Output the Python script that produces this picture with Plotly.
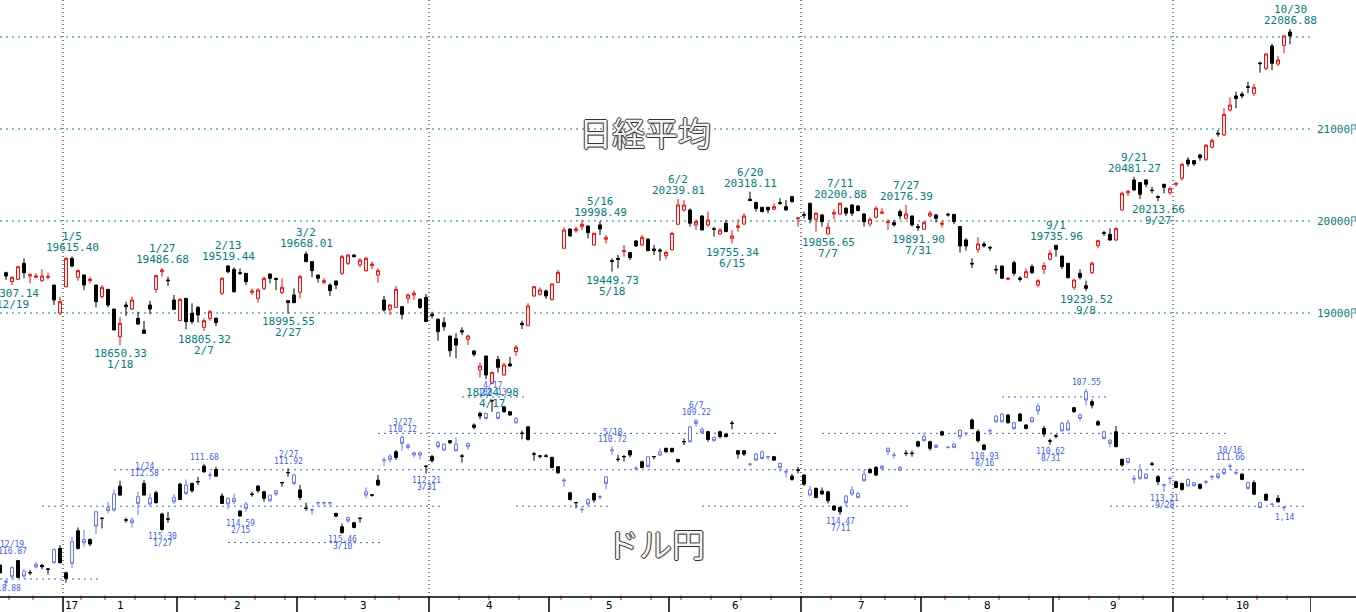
import pandas as pd
import plotly.graph_objects as go

# ── trading calendar (Tokyo) ────────────────────────────────────────────
HOLIDAYS = ["2016-12-23", "2017-01-02", "2017-01-03", "2017-01-09", "2017-03-20",
            "2017-05-03", "2017-05-04", "2017-05-05", "2017-07-17", "2017-08-11",
            "2017-09-18", "2017-10-09"]
DATES = [d for d in pd.bdate_range("2016-12-15", "2017-10-30")
         if d.strftime("%Y-%m-%d") not in HOLIDAYS]

NK_FIRST = "2016-12-16"
USD_FIRST = "2016-12-15"

# ── Nikkei 225 daily OHLC ───────────────────────────────────────────────
NK_OPEN = [
    19438, 19340, 19366, 19540, 19402, 19388, 19351, 19388, 19304, 19000,
    19286, 19594, 19388, 19413, 19351, 19304, 19177, 19257, 19043, 18743,
    19087, 19043, 18942, 18815, 19087, 19257, 19449, 19359, 19141, 18917,
    19159, 18996, 19061, 18844, 18942, 18942, 19214, 19511, 19474, 19438,
    19431, 19225, 19159, 19268, 19424, 19377, 19221, 19134, 19196, 19225,
    19641, 19558, 19413, 19333, 19304, 19348, 19431, 19540, 19630, 19522,
    19460, 19514, 19413, 19141, 19040, 19061, 19069, 19159, 19196, 19148,
    19170, 18985, 18931, 18895, 18750, 18721, 18808, 18714, 18587, 18380,
    18533, 18235, 18496, 18326, 18446, 18580, 18888, 18862, 19185, 19203,
    19239, 19148, 19333, 19703, 19913, 19895, 19938, 19946, 19739, 19957,
    19801, 19571, 19594, 19667, 19656, 19782, 19739, 19804, 19696, 19685,
    19623, 19685, 19964, 20119, 20119, 19957, 20054, 19957, 19917, 19859,
    19975, 19811, 19931, 19967, 20236, 20200, 20149, 20149, 20127, 20200,
    20156, 20265, 20025, 20073, 20192, 20018, 20066, 19859, 20076, 20076,
    20138, 20174, 20163, 20076, 19968, 20040, 20084, 19982, 19982, 20102,
    20029, 20055, 19939, 19910, 20055, 20066, 19964, 20073, 20073, 19939,
    19794, 19540, 19692, 19750, 19714, 19475, 19511, 19366, 19547, 19380,
    19388, 19503, 19304, 19475, 19583, 19735, 19619, 19540, 19279, 19431,
    19297, 19438, 19732, 19873, 19855, 19793, 20120, 20308, 20446, 20417,
    20446, 20337, 20265, 20399, 20308, 20399, 20464, 20663, 20656, 20717,
    20670, 20801, 20953, 20935, 21206, 21359, 21380, 21460, 21388, 21717,
    21659, 21902, 21706, 21909, 22054,
]
NK_HIGH = [
    19449, 19395, 19511, 19594, 19427, 19431, 19474, 19438, 19304, 19177,
    19605, 19615, 19474, 19413, 19395, 19304, 19304, 19257, 19043, 18953,
    19123, 19177, 19014, 18913, 19134, 19413, 19487, 19395, 19196, 19159,
    19159, 19105, 19076, 18942, 19032, 18953, 19388, 19519, 19496, 19485,
    19431, 19268, 19268, 19395, 19424, 19377, 19377, 19141, 19268, 19413,
    19668, 19558, 19413, 19377, 19322, 19351, 19630, 19641, 19637, 19594,
    19612, 19558, 19485, 19185, 19098, 19293, 19076, 19214, 19243, 19159,
    19206, 19014, 18942, 18953, 18750, 18779, 18844, 18761, 18598, 18460,
    18533, 18362, 18533, 18460, 18525, 18652, 18917, 19105, 19293, 19279,
    19257, 19322, 19467, 19931, 19920, 19938, 20011, 19946, 19873, 19998,
    19848, 19594, 19630, 19739, 19663, 19793, 19848, 19811, 19739, 19703,
    19677, 19884, 20240, 20228, 20137, 20018, 20065, 20101, 19938, 19920,
    20011, 19902, 20018, 20083, 20318, 20210, 20149, 20149, 20192, 20247,
    20228, 20272, 20040, 20102, 20200, 20091, 20076, 19982, 20127, 20201,
    20149, 20185, 20170, 20084, 20040, 20163, 20138, 20018, 20011, 20127,
    20176, 20055, 19968, 19993, 20113, 20076, 20004, 20091, 20073, 19939,
    19812, 19595, 19823, 19776, 19729, 19522, 19511, 19388, 19569, 19400,
    19485, 19529, 19366, 19551, 19685, 19736, 19619, 19540, 19366, 19475,
    19351, 19558, 19793, 19895, 19920, 19931, 20319, 20337, 20481, 20417,
    20453, 20373, 20279, 20399, 20373, 20428, 20627, 20692, 20663, 20728,
    20837, 20895, 20989, 21225, 21344, 21406, 21406, 21514, 21489, 21732,
    21822, 21924, 21793, 22022, 22087,
]
NK_LOW = [
    19359, 19304, 19359, 19377, 19322, 19377, 19340, 19366, 19087, 18978,
    19279, 19496, 19351, 19250, 19322, 19061, 19159, 19061, 18815, 18650,
    18967, 19032, 18869, 18772, 18985, 19221, 19395, 19293, 19032, 18917,
    18822, 18880, 18895, 18805, 18917, 18859, 19196, 19431, 19221, 19413,
    19304, 19196, 19112, 19250, 19322, 19250, 19206, 18996, 19112, 19159,
    19558, 19388, 19330, 19315, 19185, 19257, 19413, 19522, 19605, 19496,
    19449, 19478, 19330, 19014, 18978, 19061, 18931, 19105, 19141, 19043,
    18906, 18942, 18699, 18808, 18525, 18507, 18761, 18652, 18525, 18297,
    18279, 18225, 18351, 18319, 18417, 18533, 18826, 18862, 19177, 19188,
    19152, 19134, 19333, 19703, 19830, 19873, 19902, 19811, 19732, 19848,
    19757, 19450, 19485, 19612, 19576, 19721, 19728, 19677, 19630, 19569,
    19583, 19685, 19964, 20101, 19938, 19902, 19902, 19938, 19830, 19848,
    19884, 19755, 19884, 19957, 20221, 20101, 20095, 20084, 20120, 20174,
    20113, 20200, 19939, 20029, 19975, 19884, 19939, 19857, 20018, 20066,
    20055, 20055, 20105, 19939, 19939, 20029, 20076, 19903, 19939, 20018,
    20018, 19939, 19892, 19903, 20040, 19982, 19928, 20048, 19964, 19656,
    19678, 19486, 19656, 19714, 19674, 19424, 19370, 19359, 19406, 19340,
    19377, 19424, 19279, 19424, 19576, 19612, 19475, 19377, 19250, 19366,
    19240, 19424, 19703, 19837, 19786, 19786, 20112, 20272, 20330, 20239,
    20366, 20301, 20214, 20301, 20283, 20373, 20438, 20591, 20598, 20656,
    20652, 20790, 20917, 20924, 21188, 21225, 21333, 21388, 21359, 21612,
    21641, 21641, 21685, 21822, 21920,
]
NK_CLOSE = [
    19402, 19388, 19503, 19438, 19420, 19402, 19402, 19395, 19141, 19123,
    19594, 19511, 19460, 19304, 19366, 19123, 19279, 19087, 18815, 18888,
    19069, 19141, 18880, 18779, 19043, 19406, 19467, 19351, 19040, 19148,
    18906, 18906, 18978, 18917, 19014, 18895, 19377, 19449, 19232, 19431,
    19340, 19239, 19250, 19377, 19377, 19366, 19279, 19112, 19112, 19395,
    19558, 19460, 19377, 19351, 19243, 19304, 19612, 19630, 19612, 19576,
    19594, 19532, 19460, 19032, 19087, 19257, 18985, 19196, 19214, 19061,
    18906, 18971, 18797, 18851, 18590, 18652, 18793, 18750, 18551, 18424,
    18326, 18355, 18409, 18435, 18424, 18627, 18873, 19076, 19286, 19250,
    19185, 19315, 19442, 19902, 19837, 19913, 19964, 19873, 19866, 19913,
    19819, 19560, 19583, 19677, 19601, 19728, 19822, 19677, 19677, 19674,
    19659, 19866, 20174, 20174, 19975, 19993, 19902, 20011, 19909, 19902,
    19884, 19837, 19946, 20054, 20221, 20137, 20102, 20120, 20156, 20192,
    20120, 20210, 20033, 20062, 20018, 20084, 19993, 19931, 20091, 20192,
    20084, 20084, 20113, 19993, 20018, 20138, 20095, 19993, 19957, 20055,
    20076, 19957, 19928, 19986, 20084, 20029, 19975, 20066, 19993, 19729,
    19729, 19533, 19750, 19729, 19707, 19468, 19377, 19377, 19431, 19366,
    19449, 19438, 19351, 19514, 19648, 19692, 19504, 19384, 19359, 19388,
    19268, 19540, 19786, 19866, 19793, 19917, 20301, 20319, 20337, 20290,
    20399, 20330, 20257, 20366, 20351, 20406, 20616, 20620, 20620, 20688,
    20823, 20873, 20946, 21159, 21261, 21330, 21359, 21453, 21453, 21710,
    21815, 21714, 21750, 22011, 22011,
]

# ── USD/JPY daily OHLC ──────────────────────────────────────────────────
USD_OPEN = [
    117.66, 118.13, 117.38, 117.91, 117.57, 117.67, 117.20, 117.33, 117.47, 116.38,
    117.11, 117.97, 115.95, 116.32, 115.83, 116.08, 114.31, 114.68, 114.07, 113.33,
    113.39, 114.77, 114.76, 113.48, 113.39, 113.57, 113.81, 115.28, 114.72, 113.52,
    113.63, 112.84, 113.15, 112.67, 112.11, 112.28, 112.35, 113.85, 113.57, 113.57,
    114.54, 113.88, 113.36, 113.15, 113.57, 113.39, 113.15, 112.72, 112.17, 112.29,
    113.52, 114.13, 114.20, 113.80, 113.80, 113.80, 114.54, 115.46, 114.62, 115.17,
    114.68, 113.21, 113.40, 112.84, 111.46, 111.25, 111.32, 110.22, 110.64, 111.06,
    111.06, 111.81, 111.50, 110.51, 110.59, 110.51, 110.59, 111.26, 110.55, 109.67,
    109.05, 108.90, 108.22, 108.85, 108.81, 108.99, 109.18, 110.01, 110.33, 111.15,
    111.26, 111.26, 111.87, 112.16, 112.56, 113.63, 113.82, 114.17, 113.63, 113.66,
    113.47, 112.38, 110.90, 111.44, 111.29, 111.19, 111.91, 111.87, 111.28, 111.29,
    111.01, 111.01, 111.01, 111.56, 110.47, 109.64, 109.31, 109.78, 110.33, 110.22,
    110.18, 110.18, 109.46, 111.14, 111.14, 111.68, 111.14, 111.01, 111.27, 111.47,
    111.65, 112.10, 112.53, 112.03, 112.79, 113.11, 113.52, 113.33, 113.70, 114.21,
    114.31, 113.44, 113.11, 113.30, 112.24, 112.16, 112.29, 111.80, 110.82, 111.18,
    111.87, 111.11, 111.11, 110.70, 110.18, 110.82, 110.64, 110.09, 110.76, 110.59,
    109.82, 109.99, 109.73, 110.40, 110.88, 109.84, 109.05, 108.94, 109.42, 109.42,
    109.31, 109.73, 109.14, 108.50, 110.04, 110.43, 110.16, 109.45, 109.42, 108.81,
    108.99, 107.71, 108.45, 109.54, 109.91, 110.37, 110.73, 111.74, 111.38, 112.47,
    112.02, 112.24, 111.70, 112.66, 112.83, 112.46, 112.97, 113.08, 112.53, 112.71,
    113.02, 112.65, 112.37, 112.24, 111.98, 111.79, 112.15, 112.53, 112.71, 113.34,
    113.81, 113.67, 113.88, 113.76, 114.06,
]
USD_HIGH = [
    117.70, 118.43, 118.02, 117.96, 117.97, 117.79, 117.42, 117.47, 117.75, 117.14,
    117.14, 118.21, 117.42, 116.38, 116.23, 116.19, 115.53, 115.22, 114.40, 114.31,
    113.44, 114.91, 115.17, 114.49, 113.42, 113.99, 113.85, 115.35, 114.91, 113.88,
    113.67, 113.39, 113.26, 112.84, 112.16, 112.53, 112.38, 113.88, 114.18, 113.88,
    114.59, 114.31, 113.48, 113.26, 113.76, 113.76, 113.44, 112.93, 112.38, 112.84,
    113.67, 114.25, 114.49, 114.03, 113.99, 113.99, 114.62, 115.50, 114.91, 115.22,
    114.91, 113.57, 113.48, 112.89, 111.80, 111.61, 111.47, 110.95, 110.88, 111.32,
    111.43, 112.21, 111.61, 110.82, 110.95, 110.59, 111.01, 111.61, 110.92, 109.78,
    109.23, 109.23, 108.81, 109.23, 108.87, 109.05, 109.45, 110.33, 110.40, 111.50,
    111.38, 111.32, 111.92, 112.24, 112.93, 113.70, 114.12, 114.37, 113.99, 113.81,
    113.63, 113.08, 111.19, 111.56, 111.56, 111.32, 112.05, 111.92, 111.87, 111.43,
    111.25, 111.06, 111.04, 111.60, 110.64, 110.51, 109.64, 110.04, 110.46, 110.46,
    110.28, 110.22, 109.78, 111.38, 111.25, 111.80, 111.50, 111.43, 111.47, 111.50,
    112.11, 112.42, 112.60, 112.20, 112.89, 113.44, 113.57, 113.39, 113.85, 114.25,
    114.47, 113.99, 113.44, 113.57, 112.66, 112.20, 112.35, 112.05, 111.19, 111.38,
    112.05, 111.25, 111.28, 110.77, 110.46, 110.95, 110.82, 110.15, 110.82, 110.82,
    110.33, 110.15, 109.78, 110.51, 110.93, 110.09, 109.42, 109.42, 109.45, 109.82,
    109.36, 109.78, 109.42, 108.99, 110.19, 110.62, 110.28, 109.91, 109.86, 108.87,
    109.31, 108.45, 108.63, 109.60, 110.33, 110.77, 110.77, 111.83, 111.65, 112.75,
    112.57, 112.53, 111.80, 112.84, 113.21, 112.79, 113.02, 113.15, 112.93, 112.93,
    113.08, 112.79, 112.57, 112.53, 112.29, 112.02, 112.29, 112.57, 113.11, 113.39,
    114.12, 113.70, 113.94, 113.81, 114.25,
]
USD_LOW = [
    117.20, 118.02, 117.29, 116.99, 117.47, 117.51, 117.05, 117.20, 117.42, 116.32,
    116.14, 117.60, 115.68, 115.17, 115.31, 115.77, 114.25, 114.64, 113.76, 113.08,
    112.60, 114.62, 114.62, 113.21, 112.57, 113.30, 113.15, 114.36, 114.31, 113.33,
    112.71, 112.53, 112.71, 112.38, 111.68, 112.11, 111.83, 113.30, 113.52, 113.30,
    114.21, 113.76, 113.21, 112.84, 113.15, 113.38, 113.12, 112.66, 111.92, 112.20,
    112.84, 113.81, 114.12, 113.76, 113.76, 113.76, 114.36, 114.95, 114.58, 114.86,
    114.62, 112.97, 113.35, 112.29, 111.32, 111.14, 110.92, 110.12, 110.55, 111.01,
    111.01, 111.79, 111.19, 110.40, 110.55, 110.37, 110.22, 111.14, 110.51, 109.45,
    108.81, 108.87, 108.13, 108.81, 108.50, 108.77, 109.12, 109.85, 109.63, 111.01,
    111.19, 111.14, 111.28, 111.80, 112.47, 113.21, 113.76, 114.03, 113.57, 113.26,
    113.39, 112.35, 110.72, 111.19, 111.19, 110.92, 111.80, 111.50, 111.25, 111.25,
    110.82, 110.79, 110.80, 111.40, 110.28, 109.60, 109.22, 109.64, 109.85, 110.18,
    109.85, 110.00, 109.31, 110.92, 110.92, 111.61, 111.06, 110.95, 111.25, 111.25,
    111.61, 112.02, 112.24, 111.83, 112.24, 112.89, 112.97, 112.97, 113.15, 113.98,
    114.03, 113.39, 112.89, 113.21, 112.02, 111.92, 111.80, 111.74, 110.77, 111.01,
    111.80, 110.92, 110.95, 110.40, 109.96, 110.40, 110.59, 109.85, 110.70, 110.55,
    109.78, 109.96, 109.18, 109.78, 110.59, 109.73, 108.99, 108.90, 108.94, 109.36,
    108.87, 109.49, 109.09, 108.35, 109.60, 110.28, 110.04, 109.36, 109.27, 108.54,
    108.90, 107.55, 108.13, 109.27, 109.86, 110.33, 109.60, 111.38, 111.37, 112.29,
    111.69, 112.20, 111.56, 112.29, 112.75, 112.38, 112.60, 112.71, 112.47, 112.66,
    112.75, 112.57, 112.29, 112.20, 111.87, 111.66, 112.02, 112.20, 112.66, 112.57,
    113.76, 113.30, 113.85, 113.39, 113.99,
]
USD_CLOSE = [
    117.24, 118.17, 117.88, 116.99, 117.84, 117.65, 117.33, 117.24, 117.45, 117.11,
    116.32, 117.66, 117.14, 115.35, 116.01, 115.83, 115.09, 114.66, 114.25, 114.21,
    112.90, 114.75, 114.91, 113.85, 112.75, 113.88, 113.26, 114.43, 114.70, 113.76,
    112.79, 113.30, 112.75, 112.65, 111.80, 112.30, 111.98, 113.44, 113.88, 113.76,
    114.27, 114.12, 113.34, 112.90, 113.21, 113.70, 113.33, 112.70, 112.15, 112.75,
    113.11, 114.11, 114.22, 113.82, 113.82, 113.82, 114.40, 115.13, 114.80, 114.91,
    114.66, 113.39, 113.38, 112.57, 111.48, 111.43, 111.01, 110.55, 110.77, 111.19,
    111.19, 111.80, 111.28, 110.73, 110.92, 110.40, 110.95, 111.24, 110.73, 109.54,
    108.90, 109.18, 108.20, 109.18, 108.54, 108.81, 109.42, 109.99, 109.64, 111.13,
    111.24, 111.24, 111.32, 111.83, 112.60, 113.26, 113.80, 114.19, 113.88, 113.30,
    113.49, 112.75, 110.95, 111.42, 111.27, 110.95, 111.93, 111.56, 111.83, 111.27,
    111.19, 110.82, 110.82, 111.43, 110.45, 110.46, 109.45, 109.96, 109.91, 110.40,
    109.91, 110.04, 109.44, 110.95, 110.95, 111.70, 111.47, 111.38, 111.29, 111.28,
    111.87, 112.12, 112.35, 112.01, 112.29, 113.39, 113.02, 113.17, 113.21, 113.99,
    114.07, 113.81, 113.33, 113.52, 112.60, 111.98, 111.87, 111.92, 111.01, 111.20,
    112.02, 111.09, 111.09, 110.46, 110.40, 110.46, 110.77, 109.91, 110.78, 110.77,
    110.18, 110.01, 109.27, 109.91, 110.64, 109.86, 109.36, 109.36, 108.99, 109.73,
    108.94, 109.54, 109.36, 108.76, 109.73, 110.41, 110.14, 109.86, 109.82, 108.59,
    109.18, 108.17, 108.26, 109.36, 110.28, 110.55, 109.91, 111.43, 111.61, 112.51,
    112.47, 112.47, 111.68, 112.38, 112.85, 112.48, 112.66, 112.75, 112.88, 112.88,
    112.81, 112.67, 112.39, 112.42, 112.20, 111.81, 112.17, 112.24, 113.02, 112.71,
    114.07, 113.35, 113.90, 113.57, 114.08,
]

# ── labels: (date, value text, placement) ───────────────────────────────
NK_LABELS = [
    ("12/19", "19307.14", "below"), ("1/5", "19615.40", "above"),
    ("1/18", "18650.33", "below"), ("1/27", "19486.68", "above"),
    ("2/7", "18805.32", "below"), ("2/13", "19519.44", "above"),
    ("2/27", "18995.55", "below"), ("3/2", "19668.01", "above"),
    ("4/17", "18224.98", "below"), ("5/16", "19998.49", "above"),
    ("5/18", "19449.73", "below"), ("6/2", "20239.81", "above"),
    ("6/15", "19755.34", "below"), ("6/20", "20318.11", "above"),
    ("7/7", "19856.65", "below"), ("7/11", "20200.88", "above"),
    ("7/27", "20176.39", "above"), ("7/31", "19891.90", "below"),
    ("9/1", "19735.96", "above"), ("9/8", "19239.52", "below"),
    ("9/21", "20481.27", "above"), ("9/27", "20213.66", "below"),
    ("10/30", "22086.88", "above"),
]
# (date, shown date, value text, level, placement)
USD_LABELS = [
    ("12/19", "12/19", "116.87", 116.87, "above"),
    ("12/16", "", "118.88", 118.88, "above"),
    ("1/24", "1/24", "112.58", 112.58, "above"),
    ("1/27", "1/27", "115.30", 115.30, "below"),
    ("2/7", "", "111.68", 111.68, "above"),
    ("2/15", "2/15", "114.59", 114.59, "below"),
    ("2/27", "2/27", "111.92", 111.92, "above"),
    ("3/10", "3/10", "115.46", 115.46, "below"),
    ("3/27", "3/27", "110.12", 110.12, "above"),
    ("3/31", "3/31", "112.21", 112.21, "below"),
    ("4/17", "4/17", "108.13", 108.13, "above"),
    ("5/18", "5/18", "110.72", 110.72, "above"),
    ("6/7", "6/7", "109.22", 109.22, "above"),
    ("7/11", "7/11", "114.47", 114.47, "below"),
    ("8/16", "8/16", "110.93", 110.93, "below"),
    ("8/31", "8/31", "110.62", 110.62, "below"),
    ("9/8", "", "107.55", 107.55, "above"),
    ("9/28", "9/28", "113.21", 113.21, "below"),
    ("10/16", "10/16", "111.66", 111.66, "above"),
    ("10/27", "", "1,14", 114.25, "below"),
]

NK_GRID = [19000, 20000, 21000, 22000]
NK_TICKS = [19000, 20000, 21000]
NK_TICKTEXT = ["19000円", "20000円", "21000円"]

# USD/JPY reference levels: (level, from date, to date or None = right edge)
USD_LEVELS = [
    (118, "12/15", "1/13"), (116, "2/13", "3/22"),
    (114, "12/27", "4/5"), (114, "4/21", "5/18"), (114, "6/8", "7/28"), (114, "9/14", None),
    (112, "1/17", None),
    (110, "3/21", "6/27"), (110, "7/6", "10/16"),
    (108, "4/10", "4/25"), (108, "8/21", "9/14"),
]

TEAL = "#008080"
BLUE = "#3c5cff"
BLUE_CANDLE = "#6478ff"
MONO = "DejaVu Sans Mono"

W, H = 1356, 612
ML, MR, MT, MB = 0, 45, 0, 15
PW, PH = W - ML - MR, H - MT - MB
X_MAX = PW / 6.0
NK_RANGE = [15913, 22402]
USD_RANGE = [118.99, 86.19]

POS = {f"{d.month}/{d.day}": i for i, d in enumerate(DATES)}
START = {d.strftime("%Y-%m-%d"): i for i, d in enumerate(DATES)}
nk_x = list(range(START[NK_FIRST], START[NK_FIRST] + len(NK_OPEN)))
usd_x = list(range(START[USD_FIRST], START[USD_FIRST] + len(USD_OPEN)))

fig = go.Figure()
fig.add_trace(go.Candlestick(
    x=usd_x, open=USD_OPEN, high=USD_HIGH, low=USD_LOW, close=USD_CLOSE,
    yaxis="y2", whiskerwidth=0, hoverinfo="skip", showlegend=False,
    increasing=dict(line=dict(color=BLUE_CANDLE, width=1), fillcolor="#ffffff"),
    decreasing=dict(line=dict(color="#000000", width=1), fillcolor="#000000"),
))
fig.add_trace(go.Candlestick(
    x=nk_x, open=NK_OPEN, high=NK_HIGH, low=NK_LOW, close=NK_CLOSE,
    whiskerwidth=0, hoverinfo="skip", showlegend=False,
    increasing=dict(line=dict(color="#ff0000", width=1), fillcolor="#ffffff"),
    decreasing=dict(line=dict(color="#000000", width=1), fillcolor="#000000"),
))

shapes = []
for lv in NK_GRID:
    shapes.append(dict(type="line", xref="paper", yref="y", x0=0, x1=1, y0=lv, y1=lv,
                       line=dict(color=TEAL, width=1, dash="2px,4px"), layer="below"))
for lv, a, b in USD_LEVELS:
    x1 = POS[b] if b else X_MAX - 0.8
    shapes.append(dict(type="line", xref="x", yref="y2", x0=POS[a], x1=x1, y0=lv, y1=lv,
                       line=dict(color=BLUE, width=1, dash="2px,4px"), layer="below"))

# month / week boundaries from the calendar
month_bounds, week_bounds = [], []
for i in range(1, len(DATES)):
    prev, cur = DATES[i - 1], DATES[i]
    if cur.month != prev.month:
        month_bounds.append((i - 0.5, cur))
    elif cur.isocalendar()[1] != prev.isocalendar()[1]:
        week_bounds.append(i - 0.5)

for xb, d in month_bounds:
    if d.month in (1, 4, 7, 10):
        shapes.append(dict(type="line", xref="x", yref="paper", x0=xb, x1=xb, y0=0, y1=1,
                           line=dict(color="#000000", width=1, dash="1px,3px"), layer="below"))
for xb in [b for b, _ in month_bounds] + [X_MAX]:
    shapes.append(dict(type="line", xref="x", yref="paper", x0=xb, x1=xb, y0=0, y1=-MB / PH,
                       line=dict(color="#000000", width=1.5)))
for xb in week_bounds:
    shapes.append(dict(type="line", xref="x", yref="paper", x0=xb, x1=xb,
                       y0=1.5 / PH, y1=-3 / PH, line=dict(color="#ff0000", width=1)))
shapes.append(dict(type="line", xref="paper", yref="paper", x0=0, x1=W / PW, y0=0, y1=0,
                   line=dict(color="#000000", width=1.5)))

ann = []
# month labels
edges = [b for b, _ in month_bounds] + [X_MAX]
month_font = dict(family=MONO, size=11, color="#000")
for j, (xb, d) in enumerate(month_bounds):
    mid = (edges[j] + edges[j + 1]) / 2
    ann.append(dict(x=mid, y=0, xref="x", yref="paper", yanchor="top", yshift=-1,
                    text=str(d.month), showarrow=False, borderpad=0, font=month_font))
    if d.month == 1:
        ann.append(dict(x=xb, y=0, xref="x", yref="paper", xanchor="left", yanchor="top",
                        xshift=1, yshift=-1, text=d.strftime("%y"), showarrow=False,
                        borderpad=0, font=month_font))

for md, val, side in NK_LABELS:
    k, lv = POS[md], float(val)
    anchor, sgn = ("bottom", 1) if side == "above" else ("top", -1)
    for txt, off in [(val, 0), (md, 11)]:
        ann.append(dict(x=k, y=lv, xref="x", yref="y", yanchor=anchor, yshift=sgn * (1 + off),
                        text=txt, showarrow=False, borderpad=0,
                        font=dict(family=MONO, size=11, color=TEAL)))

for md, shown, val, lv, side in USD_LABELS:
    k = POS[md]
    anchor, sgn = ("bottom", 1) if side == "above" else ("top", -1)
    for txt, off in [(val, 0), (shown, 7)]:
        if not txt:
            continue
        ann.append(dict(x=k, y=lv, xref="x", yref="y2", yanchor=anchor, yshift=sgn * (1 + off),
                        text=txt, showarrow=False, borderpad=0,
                        font=dict(family=MONO, size=8, color=BLUE)))

title_font = dict(family="Noto Sans CJK JP", size=33, color="#f4f4f4", weight=400,
                  shadow="1px 0 0 #333, -1px 0 0 #333, 0 1px 0 #333, 0 -1px 0 #333, 1px 1px 1px #999")
ann.append(dict(x=645 / PW, y=1 - 132 / PH, xref="paper", yref="paper", text="日経平均",
                xanchor="center", yanchor="middle", showarrow=False, font=title_font))
ann.append(dict(x=655 / PW, y=1 - 543 / PH, xref="paper", yref="paper", text="ドル円",
                xanchor="center", yanchor="middle", showarrow=False, font=title_font))

fig.update_layout(
    width=W, height=H,
    margin=dict(l=ML, r=MR, t=MT, b=MB, autoexpand=False),
    paper_bgcolor="#ffffff", plot_bgcolor="#ffffff",
    showlegend=False,
    xaxis=dict(range=[0, X_MAX], showgrid=False, zeroline=False, showticklabels=False,
               ticks="", showline=False, rangeslider=dict(visible=False), fixedrange=True,
               automargin=False),
    yaxis=dict(range=NK_RANGE, side="right", showgrid=False, zeroline=False, ticks="",
               tickvals=NK_TICKS, ticktext=NK_TICKTEXT, ticklabelstandoff=5, automargin=False,
               tickfont=dict(family=MONO, size=11, color=TEAL)),
    yaxis2=dict(range=USD_RANGE, overlaying="y", visible=False),
    shapes=shapes,
    annotations=ann,
)

fig.write_html("out.html", config={"displayModeBar": False},
               post_script="document.body.style.margin='0';")
